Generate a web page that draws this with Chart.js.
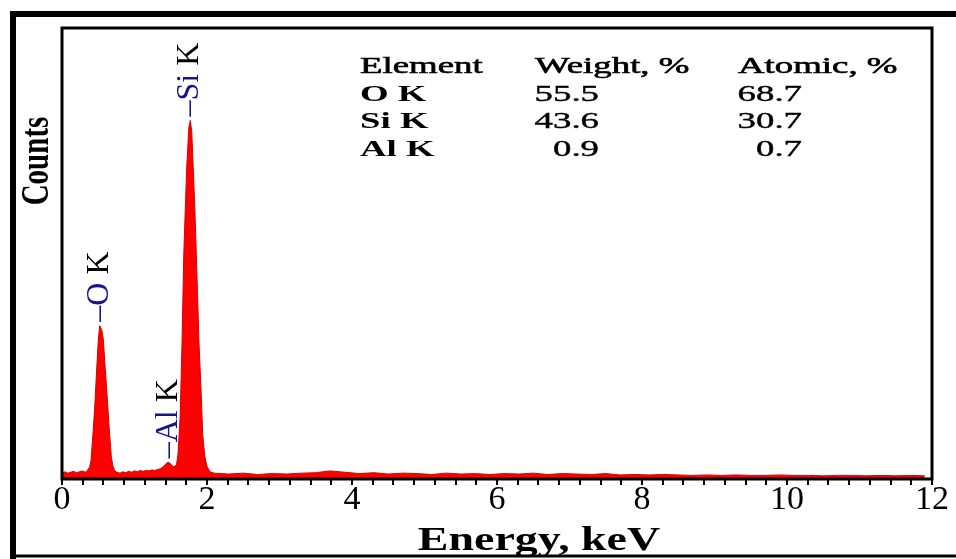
<!DOCTYPE html>
<html>
<head>
<meta charset="utf-8">
<script src="https://cdn.jsdelivr.net/npm/chart.js@4.4.1/dist/chart.umd.min.js"></script>
<style>
    html, body { margin: 0; padding: 0; background: #fff; }
    #wrap { width: 956px; height: 559px; }
</style>
</head>
<body>
<div id="wrap"><canvas id="spectre"></canvas></div>
<script>
// Données du spectre EDS (énergie en keV, coups en unités arbitraires)
const energy = [
    0.00, 0.04, 0.08, 0.12, 0.16, 0.20, 0.24, 0.28, 0.32, 0.35, 0.38,
    0.40, 0.43, 0.45, 0.47, 0.50, 0.52, 0.55, 0.57, 0.59, 0.62, 0.65, 0.68, 0.70, 0.73,
    0.76, 0.80, 0.84, 0.88, 0.92, 0.96, 1.00, 1.04, 1.08, 1.12, 1.16, 1.20, 1.24, 1.28, 1.32, 1.36,
    1.40, 1.43, 1.46, 1.49, 1.52, 1.55, 1.58,
    1.60, 1.63, 1.655, 1.68, 1.72, 1.75, 1.77, 1.79, 1.81, 1.83, 1.86, 1.89, 1.92, 1.94, 1.97, 2.00, 2.04,
    2.1, 2.3, 2.5, 2.7, 2.9, 3.1, 3.3, 3.5, 3.7, 3.9, 4.1, 4.3, 4.5, 4.7, 4.9, 5.1, 5.3, 5.5, 5.7, 5.9,
    6.1, 6.3, 6.5, 6.7, 6.9, 7.1, 7.3, 7.5, 7.7, 7.9, 8.1, 8.3, 8.5, 8.7, 8.9, 9.1, 9.3, 9.5, 9.7, 9.9,
    10.1, 10.3, 10.5, 10.7, 10.9, 11.1, 11.3, 11.5, 11.7, 11.9
];
const counts = [
    1.2, 1.6, 1.3, 1.5, 1.7, 1.4, 1.6, 1.8, 1.5, 1.9, 2.6,
    4.0, 10.7, 15.5, 21.8, 30.7, 34.0, 33.0, 31.0, 26.0, 19.0, 11.5, 5.0, 3.0, 1.7,
    1.5, 1.3, 1.6, 1.4, 1.7, 1.5, 1.8, 1.6, 1.9, 1.7, 1.9, 1.8, 2.0, 1.9, 2.1, 2.3,
    2.8, 3.3, 3.7, 3.5, 2.9, 2.7, 3.2,
    5.5, 14.0, 30.0, 50.0, 69.0, 78.0, 79.5, 77.0, 69.0, 61.0, 46.0, 30.0, 19.0, 10.0, 5.0, 2.8, 1.6,
    1.3, 1.1, 1.3, 1.0, 1.2, 1.1, 1.3, 1.4, 1.8, 1.5, 1.2, 1.4, 1.1, 1.3, 1.2, 1.0, 1.3, 1.1, 1.2, 1.0,
    1.2, 1.1, 1.3, 1.0, 1.2, 1.1, 1.0, 1.2, 0.9, 1.0, 0.9, 1.0, 0.9, 0.8, 0.9, 0.8, 0.9, 0.8, 0.8, 0.9,
    0.8, 0.8, 0.7, 0.8, 0.8, 0.7, 0.8, 0.7, 0.8, 0.7
];

// Graduations de l'axe des énergies
const xTickLabels = [0, 2, 4, 6, 8, 10, 12];
const minorPerMajor = 7;
const xTitle = 'Energy, keV';
const yTitle = 'Counts';

// Pics identifiés
const peakElements = ['O', 'Al', 'Si'];
const peakEnergies = [0.52, 1.48, 1.77];

// Tableau de composition
const tableHeader = ['Element', 'Weight, %', 'Atomic, %'];
const tableElements = ['O K', 'Si K', 'Al K'];
const weightPct = [55.5, 43.6, 0.9];
const atomicPct = [68.7, 30.7, 0.7];

const SERIF = "'Liberation Serif', 'Times New Roman', serif";

// Texte étiré horizontalement (comme dans l'image scannée)
function stretchedText(ctx, text, x, y, sx, align, epais) {
    ctx.save();
    ctx.translate(x, y);
    ctx.scale(sx, 1);
    ctx.textAlign = align || 'left';
    ctx.fillText(text, 0, 0);
    if (epais) {
        ctx.lineWidth = epais;
        ctx.strokeStyle = ctx.fillStyle;
        ctx.strokeText(text, 0, 0);
    }
    ctx.restore();
}

// Fond blanc, cadres et titres des axes
const cadre = {
    id: 'cadre',
    beforeDraw(chart) {
        const ctx = chart.ctx;
        ctx.save();
        ctx.fillStyle = '#fff';
        ctx.fillRect(0, 0, chart.width, chart.height);
        ctx.restore();
    },
    afterDraw(chart) {
        const { ctx, chartArea: a } = chart;
        ctx.save();
        ctx.strokeStyle = '#000';
        // cadre extérieur
        ctx.lineWidth = 6;
        ctx.beginPath();
        ctx.moveTo(13, 559);
        ctx.lineTo(13, 14);
        ctx.lineTo(956, 14);
        ctx.stroke();
        ctx.lineWidth = 3;
        ctx.beginPath();
        ctx.moveTo(10, 556);
        ctx.lineTo(956, 556);
        ctx.stroke();
        // cadre du graphe
        ctx.lineWidth = 3;
        ctx.strokeRect(a.left, a.top, a.right - a.left, a.bottom - a.top);

        // titre de l'axe x
        ctx.fillStyle = '#000';
        ctx.textBaseline = 'alphabetic';
        ctx.font = 'bold 34px ' + SERIF;
        stretchedText(ctx, xTitle, 539, 550, 1.35, 'center');

        // titre de l'axe y
        ctx.save();
        ctx.translate(48, 161);
        ctx.rotate(-Math.PI / 2);
        ctx.scale(1, 1.4);
        ctx.font = 'bold 29px ' + SERIF;
        ctx.textAlign = 'center';
        ctx.fillText(yTitle, 0, 0);
        ctx.restore();
        ctx.restore();
    }
};

// Étiquettes verticales des pics
const etiquettes = {
    id: 'etiquettes',
    afterDatasetsDraw(chart) {
        const { ctx, scales: { x, y } } = chart;
        ctx.save();
        ctx.font = '32px ' + SERIF;
        ctx.textBaseline = 'alphabetic';
        ctx.textAlign = 'left';
        peakElements.forEach((el, i) => {
            const e = peakEnergies[i];
            let top = 0;
            energy.forEach((v, j) => {
                if (Math.abs(v - e) <= 0.051) top = Math.max(top, counts[j]);
            });
            const px = x.getPixelForValue(e);
            const py = y.getPixelForValue(top) - 4;
            ctx.save();
            ctx.translate(px + 8, py);
            ctx.rotate(-Math.PI / 2);
            const bleu = '\u2013' + el;
            ctx.fillStyle = '#14148c';
            ctx.fillText(bleu, 0, 0);
            ctx.fillStyle = '#000';
            ctx.fillText(' K', ctx.measureText(bleu).width, 0);
            ctx.restore();
        });
        ctx.restore();
    }
};

// Tableau des teneurs
const tableau = {
    id: 'tableau',
    afterDraw(chart) {
        const ctx = chart.ctx;
        const sx = 1.6;
        const rows = [73, 101, 128, 156];
        ctx.save();
        ctx.fillStyle = '#000';
        ctx.textBaseline = 'alphabetic';
        ctx.font = '23px ' + SERIF;
        stretchedText(ctx, tableHeader[0], 360, rows[0], sx, 'left', 0.6);
        stretchedText(ctx, tableHeader[1], 535, rows[0], sx, 'left', 0.6);
        stretchedText(ctx, tableHeader[2], 738, rows[0], sx, 'left', 0.6);
        tableElements.forEach((el, i) => {
            ctx.font = 'bold 23px ' + SERIF;
            stretchedText(ctx, el, 360, rows[i + 1], sx);
            ctx.font = '23px ' + SERIF;
            stretchedText(ctx, weightPct[i].toFixed(1), 599, rows[i + 1], sx, 'right', 0.4);
            stretchedText(ctx, atomicPct[i].toFixed(1), 802, rows[i + 1], sx, 'right', 0.4);
        });
        ctx.restore();
    }
};

new Chart(document.getElementById('spectre'), {
    type: 'line',
    data: {
        datasets: [{
            data: energy.map((e, i) => ({ x: e, y: counts[i] })),
            borderColor: '#d80000',
            borderWidth: 1,
            backgroundColor: '#ff0000',
            fill: 'origin',
            pointRadius: 0,
            tension: 0
        }]
    },
    options: {
        responsive: true,
        maintainAspectRatio: false,
        animation: false,
        layout: { padding: { top: 28, right: 24, left: 0, bottom: 0 } },
        plugins: {
            legend: { display: false },
            tooltip: { enabled: false }
        },
        scales: {
            x: {
                type: 'linear',
                min: 0,
                max: 12,
                afterBuildTicks(scale) {
                    const ticks = [];
                    const n = (xTickLabels.length - 1) * minorPerMajor;
                    const step = (xTickLabels[xTickLabels.length - 1] - xTickLabels[0]) / n;
                    for (let i = 0; i <= n; i++) {
                        ticks.push({ value: xTickLabels[0] + i * step });
                    }
                    scale.ticks = ticks;
                },
                afterFit(scale) { scale.height = 80; },
                ticks: {
                    autoSkip: false,
                    maxRotation: 0,
                    color: '#000',
                    padding: -5,
                    font: { family: SERIF, size: 34 },
                    callback(value, index) {
                        if (index % minorPerMajor !== 0) return '';
                        return String(xTickLabels[index / minorPerMajor]);
                    }
                },
                grid: {
                    drawOnChartArea: false,
                    drawTicks: true,
                    tickLength: 6,
                    color: '#000',
                    lineWidth: 2
                },
                border: { display: false }
            },
            y: {
                min: 0,
                max: 100,
                ticks: { display: false },
                grid: { display: false },
                border: { display: false },
                afterFit(scale) { scale.width = 62; }
            }
        }
    },
    plugins: [cadre, etiquettes, tableau]
});
</script>
</body>
</html>
